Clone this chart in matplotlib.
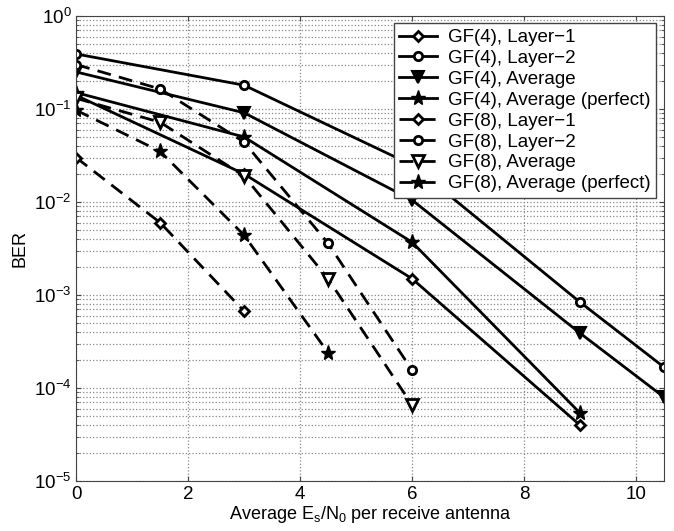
import matplotlib
matplotlib.use('Agg')
import matplotlib.pyplot as plt
from matplotlib.ticker import LogLocator, NullFormatter

plt.rcParams['font.family'] = ['Liberation Sans', 'DejaVu Sans']
plt.rcParams['mathtext.fontset'] = 'custom'
plt.rcParams['mathtext.rm'] = 'Liberation Sans'

# Es/N0 points (dB)
snr_gf4 = [0, 3, 6, 9, 10.5]
snr_gf8 = [0, 1.5, 3, 4.5, 6]

# GF(4) curves (solid)
gf4_layer1 = [0.14, 0.020, 1.5e-3, 4.0e-5]
gf4_layer2 = [0.39, 0.18, 0.025, 8.4e-4, 1.68e-4]
gf4_avg = [0.25, 0.091, 0.0105, 3.9e-4, 8.0e-5]
gf4_perfect = [0.15, 0.050, 3.7e-3, 5.4e-5]

# GF(8) curves (dashed)
gf8_layer1 = [0.030, 6.0e-3, 6.7e-4]
gf8_layer2 = [0.30, 0.164, 0.044, 3.6e-3, 1.56e-4]
gf8_avg = [0.13, 0.072, 0.019, 1.5e-3, 6.6e-5]
gf8_perfect = [0.097, 0.035, 4.4e-3, 2.4e-4]

labels = ['GF(4), Layer\u22121', 'GF(4), Layer\u22122', 'GF(4), Average',
          'GF(4), Average (perfect)', 'GF(8), Layer\u22121', 'GF(8), Layer\u22122',
          'GF(8), Average', 'GF(8), Average (perfect)']

fig = plt.figure(figsize=(6.74, 5.31), dpi=100)
ax = fig.add_axes([0.113, 0.094, 0.872, 0.876])

lw = 2
dash = (5, 3)
ax.semilogy(snr_gf4[:len(gf4_layer1)], gf4_layer1, '-', color='k', lw=lw, marker='D', ms=5, mfc='white', mew=2, label=labels[0])
ax.semilogy(snr_gf4[:len(gf4_layer2)], gf4_layer2, '-', color='k', lw=lw, marker='o', ms=6, mfc='white', mew=2, label=labels[1])
ax.semilogy(snr_gf4[:len(gf4_avg)], gf4_avg, '-', color='k', lw=lw, marker='v', ms=8, mfc='k', mew=1.5, label=labels[2])
ax.semilogy(snr_gf4[:len(gf4_perfect)], gf4_perfect, '-', color='k', lw=lw, marker='*', ms=11, mfc='k', mew=1, label=labels[3])

ax.semilogy(snr_gf8[:len(gf8_layer1)], gf8_layer1, '--', color='k', lw=lw, dashes=dash, marker='D', ms=5, mfc='white', mew=2, label=labels[4])
ax.semilogy(snr_gf8[:len(gf8_layer2)], gf8_layer2, '--', color='k', lw=lw, dashes=dash, marker='o', ms=6, mfc='white', mew=2, label=labels[5])
ax.semilogy(snr_gf8[:len(gf8_avg)], gf8_avg, '--', color='k', lw=lw, dashes=dash, marker='v', ms=8, mfc='white', mew=2, label=labels[6])
ax.semilogy(snr_gf8[:len(gf8_perfect)], gf8_perfect, '--', color='k', lw=lw, dashes=dash, marker='*', ms=11, mfc='k', mew=1, label=labels[7])

ax.set_xlim(0, 10.5)
ax.set_ylim(1e-5, 1)
ax.set_xticks([0, 2, 4, 6, 8, 10])
ax.yaxis.set_major_locator(LogLocator(base=10, numticks=10))
ax.yaxis.set_minor_locator(LogLocator(base=10, subs=range(2, 10), numticks=50))
ax.yaxis.set_minor_formatter(NullFormatter())

ax.grid(True, which='major', linestyle=':', color='#888888', lw=0.9)
ax.grid(True, which='minor', axis='y', linestyle=':', color='#888888', lw=0.9)
ax.tick_params(which='both', direction='in', top=True, right=True, labelsize=13.5, color='#444444')
for s in ax.spines.values():
    s.set_color('#444444')

ax.set_xlabel('Average E$_\\mathregular{s}$/N$_\\mathregular{0}$ per receive antenna', fontsize=13, labelpad=1)
ax.set_ylabel('BER', fontsize=13, labelpad=4)

leg = ax.legend(loc='upper right', fontsize=13.5, labelspacing=0.2, handlelength=2.0,
                handletextpad=0.6, borderpad=0.3, borderaxespad=0.4, fancybox=False,
                framealpha=1, edgecolor='#444444')
leg.get_frame().set_linewidth(1)

fig.savefig('out.png', dpi=100)
